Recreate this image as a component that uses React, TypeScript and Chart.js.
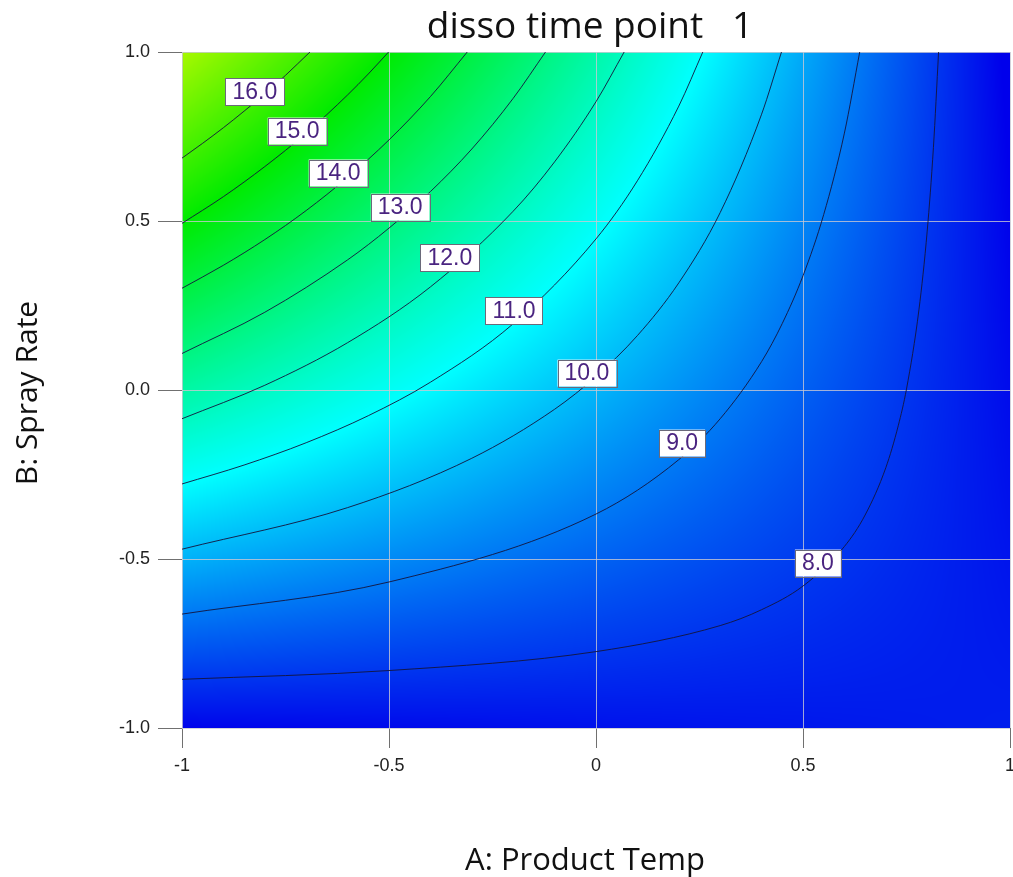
import React, { useEffect, useRef } from 'react';
import { Chart, registerables } from 'chart.js';

Chart.register(...registerables);

// ---- axes ----
const xTickValues = [-1, -0.5, 0, 0.5, 1];
const xTickLabels = ['-1', '-0.5', '0', '0.5', '1'];
const yTickValues = [-1, -0.5, 0, 0.5, 1];
const yTickLabels = ['-1.0', '-0.5', '0.0', '0.5', '1.0'];

const chartTitle = 'disso time point   1';
const xAxisTitle = 'A: Product Temp';
const yAxisTitle = 'B: Spray Rate';

// ---- response surface values on a coarse grid ----
const gridX = [-1, -0.5, 0, 0.5, 1];
const gridY = [1, 0.5, 0, -0.5, -1];
const zAtY1 = [17.63, 14.99, 12.36, 9.72, 7.09];
const zAtY05 = [15.03, 13.08, 11.13, 9.18, 7.23];
const zAtY0 = [12.44, 11.17, 9.9, 8.63, 7.36];
const zAtYm05 = [9.85, 9.26, 8.67, 8.09, 7.5];
const zAtYm1 = [7.25, 7.35, 7.45, 7.54, 7.64];
const zRows = [zAtY1, zAtY05, zAtY0, zAtYm05, zAtYm1];

// colour scale of the response
const colorStopValues = [7.2, 11.0, 15.0, 19.0];
const colorStopRGB = [
  [0, 0, 235],
  [0, 255, 255],
  [0, 235, 0],
  [255, 255, 0],
];

// ---- contour lines ----
const contourLevels = ['16.0', '15.0', '14.0', '13.0', '12.0', '11.0', '10.0', '9.0', '8.0'];
const contour16 = [[-1, 0.686], [-0.95, 0.73], [-0.9, 0.776], [-0.85, 0.825], [-0.8, 0.876], [-0.75, 0.931], [-0.691, 1]];
const contour15 = [[-1, 0.493], [-0.9, 0.572], [-0.8, 0.661], [-0.7, 0.76], [-0.6, 0.873], [-0.55, 0.935], [-0.501, 1]];
const contour14 = [[-1, 0.301], [-0.9, 0.369], [-0.8, 0.445], [-0.7, 0.531], [-0.6, 0.629], [-0.5, 0.74], [-0.4, 0.868], [-0.311, 1]];
const contour13 = [[-1, 0.108], [-0.8, 0.23], [-0.6, 0.385], [-0.5, 0.479], [-0.4, 0.587], [-0.3, 0.713], [-0.2, 0.863], [-0.122, 1]];
const contour12 = [[-1, -0.085], [-0.8, 0.014], [-0.6, 0.14], [-0.4, 0.305], [-0.2, 0.529], [-0.1, 0.675], [0, 0.853], [0.068, 1]];
const contour11 = [[-1, -0.278], [-0.85, -0.222], [-0.7, -0.156], [-0.55, -0.076], [-0.4, 0.023], [-0.2, 0.196], [0, 0.447], [0.1, 0.619], [0.2, 0.84], [0.258, 1]];
const contour10 = [[-1, -0.471], [-0.6, -0.348], [-0.3, -0.202], [-0.1, -0.057], [0, 0.04], [0.1, 0.161], [0.2, 0.317], [0.3, 0.525], [0.4, 0.816], [0.448, 1]];
const contour9 = [[-1, -0.663], [-0.5, -0.568], [0, -0.367], [0.2, -0.206], [0.3, -0.085], [0.4, 0.084], [0.45, 0.197], [0.5, 0.338], [0.55, 0.519], [0.6, 0.76], [0.637, 1]];
const contour8 = [[-1, -0.856], [-0.5, -0.83], [0, -0.774], [0.3, -0.697], [0.4, -0.65], [0.5, -0.58], [0.6, -0.463], [0.65, -0.37], [0.7, -0.23], [0.73, -0.106], [0.75, 0.003], [0.78, 0.237], [0.8, 0.47], [0.815, 0.717], [0.8275, 1]];
const contourLines = [contour16, contour15, contour14, contour13, contour12, contour11, contour10, contour9, contour8];

// label anchor points on the contours
const labelX = [-0.824, -0.722, -0.623, -0.473, -0.353, -0.198, -0.022, 0.208, 0.536];
const labelY = [0.882, 0.766, 0.642, 0.541, 0.391, 0.234, 0.05, -0.157, -0.512];

function sampleGrid(vx: number, vy: number): number {
  const nx = gridX.length;
  const ny = gridY.length;
  let i = 0;
  while (i < nx - 2 && vx > gridX[i + 1]) i++;
  let j = 0;
  while (j < ny - 2 && vy < gridY[j + 1]) j++;
  const tx = Math.min(1, Math.max(0, (vx - gridX[i]) / (gridX[i + 1] - gridX[i])));
  const ty = Math.min(1, Math.max(0, (vy - gridY[j]) / (gridY[j + 1] - gridY[j])));
  const a = zRows[j][i];
  const b = zRows[j][i + 1];
  const c = zRows[j + 1][i];
  const d = zRows[j + 1][i + 1];
  return a * (1 - tx) * (1 - ty) + b * tx * (1 - ty) + c * (1 - tx) * ty + d * tx * ty;
}

function colorFor(v: number): number[] {
  const n = colorStopValues.length;
  if (v <= colorStopValues[0]) return colorStopRGB[0];
  if (v >= colorStopValues[n - 1]) return colorStopRGB[n - 1];
  let k = 0;
  while (k < n - 2 && v > colorStopValues[k + 1]) k++;
  const t = (v - colorStopValues[k]) / (colorStopValues[k + 1] - colorStopValues[k]);
  const c0 = colorStopRGB[k];
  const c1 = colorStopRGB[k + 1];
  return [c0[0] + (c1[0] - c0[0]) * t, c0[1] + (c1[1] - c0[1]) * t, c0[2] + (c1[2] - c0[2]) * t];
}

const heatPlugin = {
  id: 'heatField',
  beforeDraw(chart: any) {
    const { ctx, chartArea, scales } = chart;
    const xs = scales.x;
    const ys = scales.y;
    const left = Math.round(chartArea.left);
    const top = Math.round(chartArea.top);
    const w = Math.round(chartArea.right) - left;
    const h = Math.round(chartArea.bottom) - top;
    const img = ctx.createImageData(w, h);
    const data = img.data;
    for (let j = 0; j < h; j++) {
      const vy = ys.getValueForPixel(top + j + 0.5);
      for (let i = 0; i < w; i++) {
        const vx = xs.getValueForPixel(left + i + 0.5);
        const c = colorFor(sampleGrid(vx, vy));
        const p = (j * w + i) * 4;
        data[p] = c[0];
        data[p + 1] = c[1];
        data[p + 2] = c[2];
        data[p + 3] = 255;
      }
    }
    ctx.putImageData(img, left, top);
  },
};

const labelPlugin = {
  id: 'contourLabels',
  afterDatasetsDraw(chart: any) {
    const { ctx, scales } = chart;
    ctx.save();
    ctx.font = "23px 'Liberation Sans', Arial, sans-serif";
    ctx.textAlign = 'center';
    ctx.textBaseline = 'middle';
    for (let k = 0; k < contourLevels.length; k++) {
      const px = scales.x.getPixelForValue(labelX[k]);
      const py = scales.y.getPixelForValue(labelY[k]);
      const tw = ctx.measureText(contourLevels[k]).width;
      const bw = tw + 14;
      const bh = 27;
      ctx.fillStyle = '#ffffff';
      ctx.fillRect(px - bw / 2, py - bh / 2, bw, bh);
      ctx.strokeStyle = '#6a6a7a';
      ctx.lineWidth = 1;
      ctx.strokeRect(Math.round(px - bw / 2) + 0.5, Math.round(py - bh / 2) + 0.5, Math.round(bw), bh);
      ctx.fillStyle = '#4a2480';
      ctx.fillText(contourLevels[k], px, py + 1);
    }
    ctx.restore();
  },
};

const titlePlugin = {
  id: 'titles',
  afterDraw(chart: any) {
    const { ctx, chartArea } = chart;
    const cx = (chartArea.left + chartArea.right) / 2;
    const cy = (chartArea.top + chartArea.bottom) / 2;
    ctx.save();
    ctx.fillStyle = '#111111';
    ctx.textAlign = 'center';
    ctx.textBaseline = 'alphabetic';
    ctx.font = "37px 'Open Sans', sans-serif";
    ctx.fillText(chartTitle, cx - 6, 38);
    ctx.font = "31px 'Open Sans', sans-serif";
    ctx.fillText(xAxisTitle, cx - 11, 870);
    ctx.translate(37, cy + 3);
    ctx.rotate(-Math.PI / 2);
    ctx.font = "30px 'Open Sans', sans-serif";
    ctx.fillText(yAxisTitle, 0, 0);
    ctx.restore();
  },
};

export default function App() {
  const canvasRef = useRef<HTMLCanvasElement | null>(null);

  useEffect(() => {
    const canvas = canvasRef.current;
    if (!canvas) return;
    const chart = new Chart(canvas, {
      type: 'scatter',
      data: {
        datasets: contourLines.map((pts, k) => ({
          label: contourLevels[k],
          data: pts.map((p) => ({ x: p[0], y: p[1] })),
          showLine: true,
          borderColor: 'rgba(20,20,60,0.9)',
          borderWidth: 1,
          pointRadius: 0,
          pointHoverRadius: 0,
          cubicInterpolationMode: 'monotone',
          fill: false,
        })),
      },
      options: {
        animation: false,
        responsive: false,
        devicePixelRatio: 1,
        events: [],
        layout: { padding: { top: 52, left: 0, right: 3, bottom: 0 } },
        plugins: {
          legend: { display: false },
          title: { display: false },
          tooltip: { enabled: false },
        },
        scales: {
          x: {
            type: 'linear',
            min: -1,
            max: 1,
            afterBuildTicks: (s: any) => {
              s.ticks = xTickValues.map((v) => ({ value: v }));
            },
            afterFit: (s: any) => {
              s.height = 149;
              s.paddingLeft = 0;
              s.paddingRight = 0;
            },
            ticks: {
              callback: (_v: any, i: number) => xTickLabels[i],
              font: { family: "'Liberation Sans', Arial, sans-serif", size: 18 },
              color: '#222222',
              padding: 7,
              maxRotation: 0,
              autoSkip: false,
            },
            grid: {
              color: 'rgba(200,200,210,0.8)',
              lineWidth: 1,
              drawTicks: true,
              tickLength: 20,
              tickColor: '#707070',
              tickWidth: 1,
            },
            border: { display: false },
          },
          y: {
            type: 'linear',
            min: -1,
            max: 1,
            afterBuildTicks: (s: any) => {
              s.ticks = yTickValues.map((v) => ({ value: v }));
            },
            afterFit: (s: any) => {
              s.width = 182;
              s.paddingTop = 0;
              s.paddingBottom = 0;
            },
            ticks: {
              callback: (_v: any, i: number) => yTickLabels[i],
              font: { family: "'Liberation Sans', Arial, sans-serif", size: 18 },
              color: '#222222',
              padding: 8,
              autoSkip: false,
            },
            grid: {
              color: 'rgba(200,200,210,0.8)',
              lineWidth: 1,
              drawTicks: true,
              tickLength: 24,
              tickColor: '#707070',
              tickWidth: 1,
            },
            border: { display: false },
          },
        },
      },
      plugins: [heatPlugin, labelPlugin, titlePlugin],
    } as any);
    return () => {
      chart.destroy();
    };
  }, []);

  return (
    <div style={{ position: 'absolute', left: 0, top: 0, width: 1013, height: 877, background: '#ffffff' }}>
      <canvas ref={canvasRef} width={1013} height={877} style={{ display: 'block', width: 1013, height: 877 }} />
    </div>
  );
}
